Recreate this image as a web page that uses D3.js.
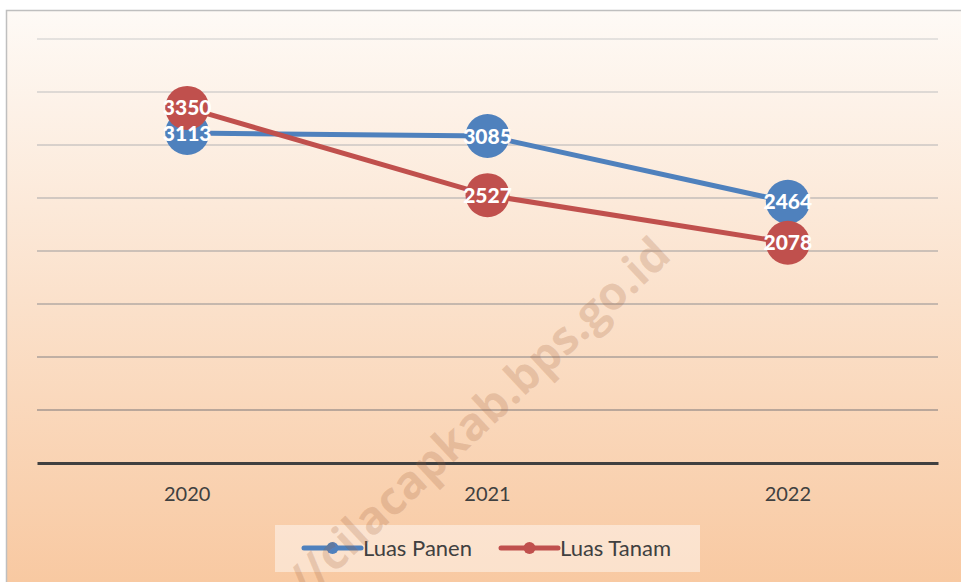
<!DOCTYPE html>
<html><head><meta charset="utf-8">
<script src="https://cdn.jsdelivr.net/npm/d3@7"></script>
<style>html,body{margin:0;padding:0;background:#fff;}svg{display:block;}</style>
</head><body>
<script>
const categories = ["2020", "2021", "2022"];
const seriesNames = ["Luas Panen", "Luas Tanam"];
const luasPanen = [3113, 3085, 2464];
const luasTanam = [3350, 2527, 2078];
const yTicks = [0, 500, 1000, 1500, 2000, 2500, 3000, 3500, 4000];
const colors = ["#4f81bd", "#c0504d"];
const watermark = "https://cilacapkab.bps.go.id";

const W = 961, H = 582;
const svg = d3.select("body").append("svg").attr("width", W).attr("height", H);
const defs = svg.append("defs");
const bg = defs.append("linearGradient").attr("id", "bg").attr("x1", 0).attr("y1", 0).attr("x2", 0).attr("y2", 1);
bg.append("stop").attr("offset", "0%").attr("stop-color", "#fefaf6");
bg.append("stop").attr("offset", "100%").attr("stop-color", "#f8c8a0");
const gg = defs.append("linearGradient").attr("id", "grid").attr("gradientUnits", "userSpaceOnUse")
  .attr("x1", 0).attr("y1", 39).attr("x2", 0).attr("y2", 463);
gg.append("stop").attr("offset", "0%").attr("stop-color", "#dcdad8");
gg.append("stop").attr("offset", "100%").attr("stop-color", "#9c8d85");

// frame
svg.append("rect").attr("x", 6.5).attr("y", 10.5).attr("width", W + 10).attr("height", H)
  .attr("fill", "url(#bg)").attr("stroke", "#bfbfbf").attr("stroke-width", 1.5);

const x = d3.scaleBand().domain(categories).range([37, 938]);
const y = d3.scaleLinear().domain([0, 4000]).range([463, 39]);

// gridlines
svg.append("g").selectAll("line").data(yTicks.filter(d => d > 0)).join("line")
  .attr("x1", 37).attr("x2", 938).attr("y1", d => y(d)).attr("y2", d => y(d))
  .attr("stroke", "url(#grid)").attr("stroke-width", 1.5);

// x axis
const xAxis = svg.append("g").attr("transform", `translate(0,${y(0)})`)
  .call(d3.axisBottom(x).tickSize(0).tickPadding(24));
xAxis.select(".domain").attr("stroke", "#404040").attr("stroke-width", 3);
xAxis.selectAll("text").attr("font-family", "Lato, 'Open Sans', sans-serif").attr("font-size", 20)
  .attr("fill", "#404040");

const data = [luasPanen, luasTanam];
const line = d3.line().x((d, i) => x(categories[i]) + x.bandwidth() / 2).y(d => y(d));

data.forEach((vals, s) => {
  svg.append("path").datum(vals).attr("d", line).attr("fill", "none")
    .attr("stroke", colors[s]).attr("stroke-width", 5).attr("stroke-linecap", "round");
});
data.forEach((vals, s) => {
  svg.append("g").selectAll("circle").data(vals).join("circle")
    .attr("cx", (d, i) => x(categories[i]) + x.bandwidth() / 2).attr("cy", d => y(d))
    .attr("r", 22).attr("fill", colors[s]);
});
data.forEach((vals, s) => {
  svg.append("g").selectAll("text").data(vals).join("text")
    .attr("x", (d, i) => x(categories[i]) + x.bandwidth() / 2).attr("y", d => y(d))
    .attr("dy", "0.36em").attr("text-anchor", "middle")
    .attr("font-family", "Lato, 'Open Sans', sans-serif").attr("font-weight", "900")
    .attr("font-size", 21).attr("fill", "#fff").text(d => d);
});

// legend
const lg = svg.append("g");
lg.append("rect").attr("x", 275).attr("y", 525).attr("width", 425).attr("height", 47)
  .attr("fill", "#ffffff").attr("fill-opacity", 0.45);
const lx = [304, 501];
seriesNames.forEach((n, s) => {
  const g = lg.append("g").attr("transform", `translate(${lx[s]},548)`);
  g.append("line").attr("x1", 0).attr("x2", 57).attr("stroke", colors[s]).attr("stroke-width", 5)
    .attr("stroke-linecap", "round");
  g.append("circle").attr("cx", 28.5).attr("r", 6).attr("fill", colors[s]);
  g.append("text").attr("x", 59).attr("dy", "0.36em").attr("font-family", "Lato, 'Open Sans', sans-serif")
    .attr("font-size", 22).attr("fill", "#404040").text(n);
});

// watermark
svg.append("text").attr("transform", "translate(662,246) rotate(-43)")
  .attr("text-anchor", "end").attr("dy", "0.35em")
  .attr("font-family", "'Open Sans', sans-serif").attr("font-weight", "bold").attr("font-size", 46)
  .attr("fill", "#a0603a").attr("fill-opacity", 0.22).text(watermark);
</script>
</body></html>
